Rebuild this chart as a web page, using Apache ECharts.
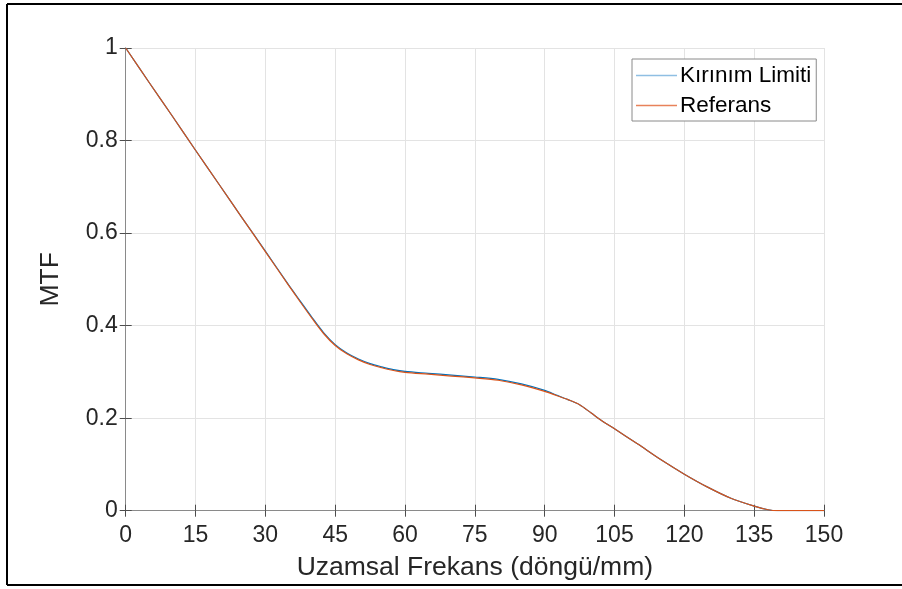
<!DOCTYPE html>
<html>
<head>
<meta charset="utf-8">
<script src="https://cdn.jsdelivr.net/npm/echarts@6/dist/echarts.min.js"></script>
<style>
  html, body { margin: 0; padding: 0; background: #fff; }
  #chart { width: 902px; height: 589px; }
</style>
</head>
<body>
<div id="chart"></div>
<script>
// Spatial frequency samples (cycles/mm)
const freq = [0, 5, 10, 15, 20, 25, 30, 35, 37.5, 40, 42.5, 45, 47.5, 50, 52.5, 55, 57.5, 60,
  65, 70, 75, 80, 85, 90, 92.5, 95, 97.5, 100, 102.5, 105, 110, 115, 120, 125, 130, 135, 138, 140, 145, 150];

// Diffraction-limited MTF
const mtfDiffraction = [1.000, 0.926, 0.853, 0.779, 0.706, 0.633, 0.561, 0.488, 0.453, 0.418, 0.385, 0.359, 0.341, 0.328, 0.318, 0.311, 0.305, 0.301,
  0.297, 0.293, 0.289, 0.284, 0.274, 0.260, 0.250, 0.240, 0.229, 0.211, 0.193, 0.177, 0.144, 0.110, 0.079, 0.051, 0.027, 0.010, 0.002, 0.000, 0.000, 0.000];

// Reference MTF
const mtfReference = [1.000, 0.926, 0.853, 0.779, 0.706, 0.633, 0.560, 0.487, 0.451, 0.416, 0.383, 0.357, 0.339, 0.326, 0.316, 0.309, 0.303, 0.299,
  0.295, 0.291, 0.287, 0.282, 0.272, 0.258, 0.249, 0.240, 0.229, 0.211, 0.193, 0.177, 0.144, 0.110, 0.079, 0.051, 0.027, 0.010, 0.002, 0.000, 0.000, 0.000];

const seriesNames = ['Kırınım Limiti', 'Referans'];

const FONT = '"Liberation Sans", Arial, sans-serif';
const chart = echarts.init(document.getElementById('chart'), null, { renderer: 'canvas' });

const pairs = (xs, ys) => xs.map((x, i) => [x, ys[i]]);

const gridBox = { left: 125.7, top: 48, right: 78, bottom: 78.3 };
const axisLineColor = '#8a8a8a';
const tickColor = '#4d4d4d';
const frameLine = { stroke: '#000', lineWidth: 2 };

chart.setOption({
  animation: false,
  backgroundColor: '#fff',
  // figure frame: top, left and bottom edges
  graphic: [
    { type: 'line', shape: { x1: 7, y1: 4, x2: 902, y2: 4 }, style: frameLine, silent: true },
    { type: 'line', shape: { x1: 7, y1: 4, x2: 7, y2: 585 }, style: frameLine, silent: true },
    { type: 'line', shape: { x1: 7, y1: 585, x2: 902, y2: 585 }, style: frameLine, silent: true }
  ],
  grid: gridBox,
  legend: {
    orient: 'vertical',
    left: 632,
    top: 59,
    width: 181,
    padding: [5, 5, 4, 4],
    icon: 'rect',
    itemWidth: 41,
    itemHeight: 1.3,
    itemGap: 7,
    borderColor: '#8a8a8a',
    borderWidth: 1,
    backgroundColor: '#fff',
    textStyle: { fontFamily: FONT, fontSize: 22.5, color: '#000', lineHeight: 22, padding: [0, 0, 0, -2] },
    data: [
      { name: seriesNames[0], itemStyle: { color: '#8fbfe3' } },
      { name: seriesNames[1], itemStyle: { color: '#e8825a' } }
    ]
  },
  xAxis: [{
    type: 'value',
    min: 0, max: 150, interval: 15,
    name: 'Uzamsal Frekans (döngü/mm)',
    nameLocation: 'middle',
    nameGap: 43,
    nameTextStyle: { fontFamily: FONT, fontSize: 26.5, color: '#262626' },
    axisLine: { show: true, lineStyle: { color: axisLineColor, width: 1 } },
    axisTick: { show: true, inside: true, length: 6, lineStyle: { color: tickColor } },
    axisLabel: { fontFamily: FONT, fontSize: 23, color: '#262626', margin: 13 },
    splitLine: { show: true, lineStyle: { color: '#e3e3e3', width: 1 } }
  }, {
    type: 'value',
    position: 'top',
    min: 0, max: 150, interval: 15,
    axisLine: { show: true, lineStyle: { color: axisLineColor, width: 1 } },
    axisTick: { show: true, inside: true, length: 6, lineStyle: { color: tickColor } },
    axisLabel: { show: false },
    splitLine: { show: false }
  }],
  yAxis: [{
    type: 'value',
    min: 0, max: 1, interval: 0.2,
    name: 'MTF',
    nameLocation: 'middle',
    nameGap: 62,
    nameTextStyle: { fontFamily: FONT, fontSize: 26.5, color: '#262626' },
    axisLine: { show: true, lineStyle: { color: axisLineColor, width: 1 } },
    axisTick: { show: true, inside: true, length: 6, lineStyle: { color: tickColor } },
    axisLabel: { fontFamily: FONT, fontSize: 23, color: '#262626', margin: 8 },
    splitLine: { show: true, lineStyle: { color: '#e3e3e3', width: 1 } }
  }, {
    type: 'value',
    position: 'right',
    min: 0, max: 1, interval: 0.2,
    axisLine: { show: true, lineStyle: { color: axisLineColor, width: 1 } },
    axisTick: { show: true, inside: true, length: 6, lineStyle: { color: tickColor } },
    axisLabel: { show: false },
    splitLine: { show: false }
  }],
  series: [{
    name: seriesNames[0],
    type: 'line',
    data: pairs(freq, mtfDiffraction),
    symbol: 'none',
    smooth: 0.3,
    lineStyle: { color: '#0072BD', width: 1.2 },
    itemStyle: { color: '#0072BD' },
    z: 3
  }, {
    name: seriesNames[1],
    type: 'line',
    data: pairs(freq, mtfReference),
    symbol: 'none',
    smooth: 0.3,
    lineStyle: { color: '#D95319', width: 1.2 },
    itemStyle: { color: '#D95319' },
    z: 4
  }]
});
</script>
</body>
</html>
